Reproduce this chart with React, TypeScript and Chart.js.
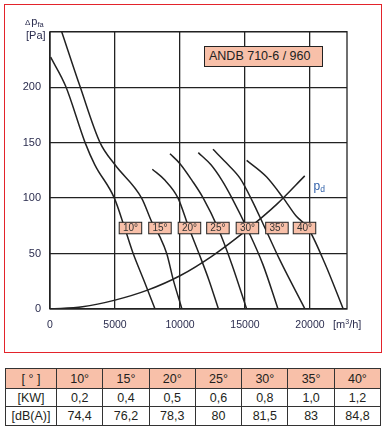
import React, { useEffect, useRef } from 'react';
import { Chart, registerables } from 'chart.js';
Chart.register(...registerables);

// ---- data ----
const curveNames = ['10°', '15°', '20°', '25°', '30°', '35°', '40°'];
const curve10 = [[50, 227], [1200, 201], [2700, 150], [3450, 130], [4950, 100], [5750, 73], [6400, 50], [7250, 25], [8080, 0]];
const curve15 = [[900, 250], [2300, 201], [3850, 150], [5000, 130], [7050, 100], [7850, 78], [8460, 65], [8980, 50], [9490, 26], [10150, 0]];
const curve20 = [[7870, 126], [8850, 116], [9850, 100], [10690, 73], [11460, 50], [12230, 26], [12960, 0]];
const curve25 = [[9230, 140], [10000, 131], [10920, 116], [11790, 100], [12920, 73], [14000, 40], [15130, 0]];
const curve30 = [[11410, 141], [12385, 130], [13230, 116], [14000, 100], [15230, 71], [16385, 40], [17540, 0]];
const curve35 = [[12540, 144], [13540, 132], [14615, 118], [15540, 98], [16540, 73], [17690, 44], [19615, 0]];
const curve40 = [[15130, 134], [16670, 119], [17950, 100], [18920, 84], [19850, 73], [21150, 41], [22560, 0]];
const pdCurve = [[0, 0], [2500, 2], [5000, 8], [7500, 17], [10000, 30], [12500, 48], [15000, 70], [17500, 95], [19600, 120]];
const curves = [curve10, curve15, curve20, curve25, curve30, curve35, curve40];

const xTicks = [0, 5000, 10000, 15000, 20000];
const yGrid = [0, 50, 100, 150, 200, 250];
const yLabeled = [0, 50, 100, 150, 200];
const xMax = 22850;
const yMax = 250;

const labelX = [6190, 8460, 10730, 12920, 15190, 17460, 19580];
const labelY = 73;

const tableHead = ['[ ° ]', '10°', '15°', '20°', '25°', '30°', '35°', '40°'];
const tableKW = ['[KW]', '0,2', '0,4', '0,5', '0,6', '0,8', '1,0', '1,2'];
const tableDB = ['[dB(A)]', '74,4', '76,2', '78,3', '80', '81,5', '83', '84,8'];

const FONT = '"Liberation Sans", Arial, sans-serif';
const SALMON = '#f8c0a9';
const INK = '#222222';
const NAVY = '#2b2d4f';

const labelPlugin = {
  id: 'curveLabels',
  beforeDatasetsDraw(chart: any) {
    const { ctx, chartArea } = chart;
    ctx.save();
    ctx.strokeStyle = INK;
    ctx.lineWidth = 1.3;
    ctx.strokeRect(chartArea.left, chartArea.top, chartArea.right - chartArea.left, chartArea.bottom - chartArea.top);
    ctx.restore();
  },
  afterDatasetsDraw(chart: any) {
    const { ctx, scales } = chart;
    const x = scales.x;
    const y = scales.y;
    ctx.save();
    ctx.font = `10px ${FONT}`;
    ctx.textAlign = 'center';
    ctx.textBaseline = 'middle';
    curveNames.forEach((n, i) => {
      const cx = x.getPixelForValue(labelX[i]);
      const cy = y.getPixelForValue(labelY);
      const w = 22.5;
      const h = 11.5;
      ctx.fillStyle = SALMON;
      ctx.fillRect(cx - w / 2, cy - h / 2, w, h);
      ctx.strokeStyle = INK;
      ctx.lineWidth = 1;
      ctx.strokeRect(cx - w / 2, cy - h / 2, w, h);
      ctx.fillStyle = '#333';
      ctx.fillText(n, cx, cy + 0.5);
    });
    ctx.restore();
  },
};

function ChartBox() {
  const ref = useRef<HTMLCanvasElement | null>(null);
  useEffect(() => {
    if (!ref.current) return;
    const datasets: any[] = curves.map((c, i) => ({
      label: curveNames[i],
      data: c.map(([x, y]) => ({ x, y })),
      borderColor: INK,
      borderWidth: 1.5,
      pointRadius: 0,
      cubicInterpolationMode: 'monotone',
      fill: false,
    }));
    datasets.push({
      label: 'pd',
      data: pdCurve.map(([x, y]) => ({ x, y })),
      borderColor: INK,
      borderWidth: 1.5,
      pointRadius: 0,
      cubicInterpolationMode: 'monotone',
      fill: false,
    });
    const chart = new Chart(ref.current, {
      type: 'line',
      data: { datasets },
      options: {
        animation: false,
        responsive: false,
        maintainAspectRatio: false,
        layout: { padding: { top: 31.7, right: 40, left: 0, bottom: 0 } },
        plugins: { legend: { display: false }, tooltip: { enabled: false } },
        scales: {
          x: {
            type: 'linear',
            min: 0,
            max: xMax,
            afterBuildTicks: (s: any) => { s.ticks = xTicks.map((v) => ({ value: v })); },
            afterFit: (s: any) => { s.height = 51; },
            grid: { color: INK, lineWidth: 1.3, drawTicks: false },
            border: { display: false },
            ticks: {
              padding: 10,
              color: NAVY,
              font: { family: FONT, size: 10.5 },
              maxRotation: 0,
              callback: (v: any) => String(v),
            },
          },
          y: {
            type: 'linear',
            min: 0,
            max: yMax,
            afterBuildTicks: (s: any) => { s.ticks = yGrid.map((v) => ({ value: v })); },
            afterFit: (s: any) => { s.width = 50; },
            grid: { color: INK, lineWidth: 1.3, drawTicks: false },
            border: { display: false },
            ticks: {
              padding: 9,
              color: NAVY,
              font: { family: FONT, size: 11 },
              callback: (v: any) => (yLabeled.includes(v) ? String(v) : ''),
            },
          },
        },
      } as any,
      plugins: [labelPlugin],
    });
    return () => chart.destroy();
  }, []);
  return <canvas ref={ref} width={387} height={360} style={{ position: 'absolute', left: 0, top: 0, width: 387, height: 360 }} />;
}

export default function App() {
  const cellBase: React.CSSProperties = {
    border: '1px solid #333',
    textAlign: 'center',
    padding: 0,
    fontFamily: FONT,
    fontSize: 12.5,
    color: '#231f20',
  };
  return (
    <div style={{ position: 'fixed', left: 0, top: 0, width: 387, height: 430, background: '#fff', fontFamily: FONT, overflow: 'hidden' }}>
      <div style={{ position: 'absolute', left: 4, top: 4, width: 378, height: 348.5, border: '1.5px solid #e3232b', boxSizing: 'border-box' }} />
      <ChartBox />
      <div style={{ position: 'absolute', left: 25, top: 12, color: NAVY, whiteSpace: 'nowrap', lineHeight: 1 }}>
        <span style={{ fontSize: 8 }}>Δ</span>
        <span style={{ fontSize: 11, marginLeft: 1 }}>p</span>
        <span style={{ fontSize: 7.5, position: 'relative', top: 2 }}>fa</span>
      </div>
      <div style={{ position: 'absolute', left: 26, top: 29.5, fontSize: 11, color: NAVY, lineHeight: 1, whiteSpace: 'nowrap' }}>[Pa]</div>
      <div style={{ position: 'absolute', left: 204, top: 46, width: 119, height: 21, boxSizing: 'border-box', border: '1px solid #222', background: SALMON, fontSize: 12.5, lineHeight: '19px', paddingLeft: 4, color: INK, whiteSpace: 'nowrap' }}>ANDB 710-6 / 960</div>
      <div style={{ position: 'absolute', left: 313.5, top: 177, color: '#2f5fa8', whiteSpace: 'nowrap', lineHeight: 1 }}>
        <span style={{ fontSize: 12 }}>p</span>
        <span style={{ fontSize: 8.5, position: 'relative', top: 2 }}>d</span>
      </div>
      <div style={{ position: 'absolute', left: 333, top: 319, fontSize: 11, color: NAVY, lineHeight: 1, whiteSpace: 'nowrap' }}>
        [m<sup style={{ fontSize: 7, verticalAlign: 'top', position: 'relative', top: -1 }}>3</sup>/h]
      </div>
      <table style={{ position: 'absolute', left: 5, top: 368, width: 375, borderCollapse: 'collapse', tableLayout: 'fixed' }}>
        <colgroup>
          <col style={{ width: 51 }} />
          {tableHead.slice(1).map((_, i) => <col key={i} style={{ width: 46.3 }} />)}
        </colgroup>
        <tbody>
          <tr style={{ height: 20, background: SALMON }}>
            {tableHead.map((t, i) => <td key={i} style={cellBase}>{t}</td>)}
          </tr>
          <tr style={{ height: 18.3 }}>
            {tableKW.map((t, i) => <td key={i} style={cellBase}>{t}</td>)}
          </tr>
          <tr style={{ height: 18.3 }}>
            {tableDB.map((t, i) => <td key={i} style={cellBase}>{t}</td>)}
          </tr>
        </tbody>
      </table>
    </div>
  );
}
